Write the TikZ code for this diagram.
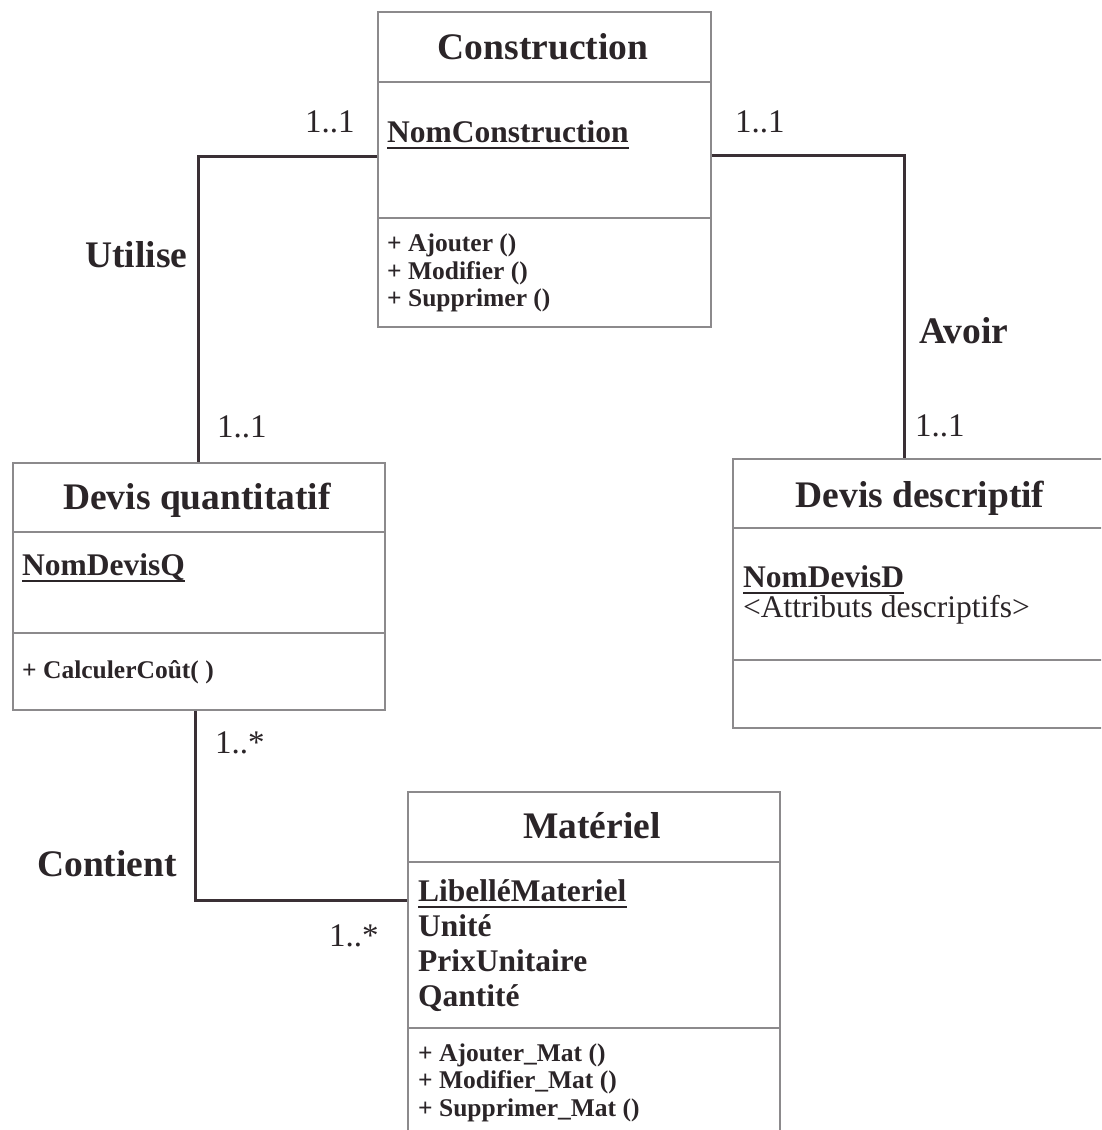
\documentclass[tikz,border=0pt]{standalone}
\usepackage{fontspec}
\setmainfont{Liberation Serif}
\definecolor{inkc}{HTML}{2B2528}
\definecolor{boxgray}{HTML}{8C8A8C}
\definecolor{linec}{HTML}{3A3035}
\newcommand\fTitle{\fontsize{37.5}{45}\selectfont\bfseries}
\newcommand\fAttr{\fontsize{31.5}{38}\selectfont\bfseries}
\newcommand\fDesc{\fontsize{31.5}{38}\selectfont}
\newcommand\fMeth{\fontsize{25.5}{30}\selectfont\bfseries}
\newcommand\fMult{\fontsize{33}{40}\selectfont}
\tikzset{
  classbox/.style={draw=boxgray, line width=1.6pt, rectangle, inner sep=0pt, anchor=north west},
  divider/.style={draw=boxgray, line width=1.4pt},
  assoc/.style={draw=linec, line width=3pt},
  ttl/.style={anchor=base, inner sep=0pt, text=inkc, font=\fTitle},
  attr/.style={anchor=base west, inner sep=0pt, text=inkc, font=\fAttr},
  desc/.style={anchor=base west, inner sep=0pt, text=inkc, font=\fDesc},
  meth/.style={anchor=base west, inner sep=0pt, text=inkc, font=\fMeth},
  mult/.style={anchor=base west, inner sep=0pt, text=inkc, font=\fMult},
  lbl/.style={anchor=base west, inner sep=0pt, text=inkc, font=\fTitle},
  uline/.style={draw=inkc, line width=2.6pt}
}
\begin{document}
\begin{tikzpicture}[x=1pt, y=-1pt]
\useasboundingbox (0,0) rectangle (1101,1130);
\clip (0,0) rectangle (1101,1130);
\fill[white] (0,0) rectangle (1101,1130);

% ---------- Construction ----------
\node[classbox, minimum width=333pt, minimum height=315pt] (cons) at (377,11) {};
\draw[divider] (cons.west |- 0,82) -- (cons.east |- 0,82);
\draw[divider] (cons.west |- 0,218) -- (cons.east |- 0,218);
\node[ttl] (consT) at (543,59) {Construction};
\node[attr] (consA) at (387,142) {NomConstruction};
\draw[uline] ([yshift=-6pt]consA.base west) -- ([yshift=-6pt]consA.base east);
\node[meth] (consM1) at (387,251) {+ Ajouter ()};
\node[meth] (consM2) at (387,279) {+ Modifier ()};
\node[meth] (consM3) at (387,306) {+ Supprimer ()};

% ---------- Devis quantitatif ----------
\node[classbox, minimum width=372pt, minimum height=247pt] (dq) at (12,462) {};
\draw[divider] (dq.west |- 0,532) -- (dq.east |- 0,532);
\draw[divider] (dq.west |- 0,633) -- (dq.east |- 0,633);
\node[ttl] (dqT) at (197,509) {Devis quantitatif};
\node[attr] (dqA) at (22,575) {NomDevisQ};
\draw[uline] ([yshift=-6pt]dqA.base west) -- ([yshift=-6pt]dqA.base east);
\node[meth] (dqM1) at (22,678) {+ CalculerCoût( )};

% ---------- Devis descriptif ----------
\node[classbox, minimum width=376pt, minimum height=269pt] (dd) at (732,458) {};
\draw[divider] (dd.west |- 0,528) -- (dd.east |- 0,528);
\draw[divider] (dd.west |- 0,660) -- (dd.east |- 0,660);
\node[ttl] (ddT) at (920,507) {Devis descriptif};
\node[attr] (ddA) at (743,587) {NomDevisD};
\draw[uline] ([yshift=-6pt]ddA.base west) -- ([yshift=-6pt]ddA.base east);
\node[desc] (ddD) at (743,617) {<Attributs descriptifs>};

% ---------- Materiel ----------
\node[classbox, minimum width=372pt, minimum height=360pt] (mat) at (407,791) {};
\draw[divider] (mat.west |- 0,862) -- (mat.east |- 0,862);
\draw[divider] (mat.west |- 0,1028) -- (mat.east |- 0,1028);
\node[ttl] (matT) at (592,838) {Matériel};
\node[attr] (matA1) at (418,901) {LibelléMateriel};
\draw[uline] ([yshift=-6pt]matA1.base west) -- ([yshift=-6pt]matA1.base east);
\node[attr] (matA2) at (418,936) {Unité};
\node[attr] (matA3) at (418,971) {PrixUnitaire};
\node[attr] (matA4) at (418,1006) {Qantité};
\node[meth] (matM1) at (418,1061) {+ Ajouter\_Mat ()};
\node[meth] (matM2) at (418,1088) {+ Modifier\_Mat ()};
\node[meth] (matM3) at (418,1116) {+ Supprimer\_Mat ()};

% ---------- Associations ----------
\draw[assoc] (cons.west |- 0,156) -| (dq.north);
\draw[assoc] (cons.east |- 0,155) -| ([xshift=172pt]dd.north west);
\draw[assoc] ([xshift=-3pt]dq.south) |- (mat.west |- 0,900);

% ---------- Labels ----------
\node[mult] (m1) at (305,132) {1..1};
\node[lbl] (lu) at (85,267) {Utilise};
\node[mult] (m2) at (217,437) {1..1};
\node[mult] (m3) at (735,132) {1..1};
\node[lbl] (la) at (919,343) {Avoir};
\node[mult] (m4) at (915,436) {1..1};
\node[mult] (m5) at (215,753) {1..*};
\node[lbl] (lc) at (37,876) {Contient};
\node[mult] (m6) at (329,946) {1..*};
\end{tikzpicture}
\end{document}
